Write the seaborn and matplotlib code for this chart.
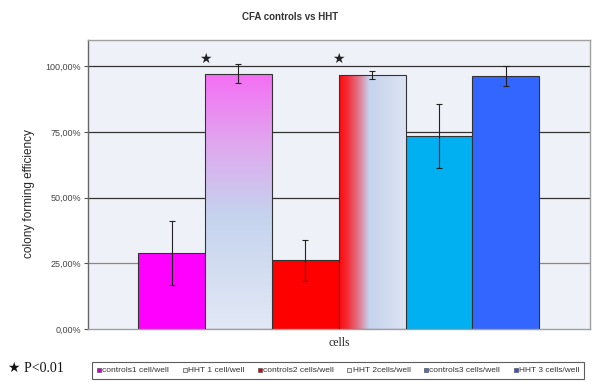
import numpy as np
import pandas as pd
import seaborn as sns
import matplotlib.pyplot as plt
from matplotlib.colors import LinearSegmentedColormap
from matplotlib.lines import Line2D
from matplotlib.ticker import FuncFormatter

sns.set_style("white")
plt.rcParams['font.family'] = ['Liberation Sans', 'DejaVu Sans']

groups = ['controls1 cell/well', 'HHT 1 cell/well', 'controls2 cells/well',
          'HHT 2cells/well', 'controls3 cells/well', 'HHT 3 cells/well']
efficiency = [28.8, 97.2, 26.1, 96.8, 73.5, 96.3]
err = [12.2, 3.7, 7.8, 1.5, 12.2, 3.8]
colors = ['#FF00FF', '#DCE3F2', '#FF0000', '#DCE3F2', '#00B0F0', '#3366FF']
legend_colors = ['#CC00CC', '#EEEEF5', '#EE0000', '#EEEEF5', '#4F6FC8', '#3355DD']
star_after = [0, 2]  # star between bar i and i+1

df = pd.DataFrame({'group': groups, 'eff': efficiency})

fig = plt.figure(figsize=(6, 3.85), dpi=100)
ax = fig.add_axes([88 / 600, 1 - 329 / 385, 502 / 600, 289 / 385])
ax.set_facecolor('#EEF1F7')

sns.barplot(data=df, x='group', y='eff', hue='group', palette=colors,
            legend=False, width=1.0, saturation=1, edgecolor='#333333',
            linewidth=0.8, ax=ax, zorder=2)

patches = ax.patches
xs = [p.get_x() + p.get_width() / 2 for p in patches]
ax.errorbar(xs, efficiency, yerr=err, fmt='none', ecolor='#222222',
            elinewidth=0.8, capsize=2.5, capthick=0.8, zorder=4)

# gradient fills for HHT 1 and HHT 2 bars
vgrad = LinearSegmentedColormap.from_list(
    'v', [(0, '#E2E8F5'), (0.45, '#C5D3EE'), (0.72, '#E0A8EE'), (1, '#F56EF5')])
hgrad = LinearSegmentedColormap.from_list(
    'h', [(0, '#FF0A0A'), (0.12, '#F52A35'), (0.3, '#E07A90'), (0.45, '#C5D3EE'),
          (1, '#DDE4F3')])
for idx, cmap, vertical in [(1, vgrad, True), (3, hgrad, False)]:
    p = patches[idx]
    x0, y0, w, h = p.get_x(), p.get_y(), p.get_width(), p.get_height()
    g = np.linspace(0, 1, 256)
    arr = g[:, None] if vertical else g[None, :]
    im = ax.imshow(arr, cmap=cmap, extent=[x0, x0 + w, y0, y0 + h],
                   origin='lower', aspect='auto', zorder=2.5)
    im.set_clip_path(p)
    p.set_facecolor('none')
    p.set_zorder(3)

for i in star_after:
    p = patches[i]
    ax.text(p.get_x() + p.get_width(), 102.8, '\u2605', ha='center',
            va='center', fontsize=10, color='#222222',
            family=['DejaVu Sans'], zorder=5)

ax.set_xlim(-1.25, 6.26)
ax.set_ylim(0, 110)
ax.set_yticks([0, 25, 50, 75, 100])
ax.yaxis.set_major_formatter(FuncFormatter(lambda v, _: f'{v:.2f}%'.replace('.', ',')))
ax.set_xticks([])
ax.tick_params(axis='y', labelsize=6.5, labelcolor='#444444', length=3,
               direction='out', left=True, width=0.8, color='#555555', pad=2)
ax.yaxis.grid(True, color='#333333', linewidth=0.9, zorder=0)
ax.set_axisbelow(True)
gl = ax.get_ygridlines()
gl[1].set_color('#888888')
gl[0].set_visible(False)
for s in ax.spines.values():
    s.set_color('#A0A0A0')
    s.set_linewidth(1.0)
ax.spines['left'].set_color('#666666')

ax.set_xlabel('cells', fontsize=8.5, labelpad=6, family=['Liberation Serif'])
ax.set_ylabel('colony forming efficiency', fontsize=8.5, labelpad=8)
ax.yaxis.set_label_coords(-0.105, 0.47)
fig.text(290 / 600, 1 - 17 / 385, 'CFA controls vs HHT', ha='center',
         va='center', fontsize=7, fontweight='bold', color='#333333')

handles = [Line2D([], [], marker='s', linestyle='none', markersize=3.5,
                  markerfacecolor=c, markeredgecolor='#555555', markeredgewidth=0.5)
           for c in legend_colors]
leg = fig.legend(handles, groups, loc='center', ncol=6,
                 bbox_to_anchor=(338 / 600, 1 - 370.5 / 385), fontsize=6,
                 frameon=True, fancybox=False, edgecolor='#333333',
                 handlelength=0.6, handletextpad=0.1, columnspacing=1.55,
                 borderpad=0.5, labelcolor='#333333')
leg.get_frame().set_linewidth(0.8)

fig.text(8 / 600, 1 - 368 / 385, '\u2605 P<0.01', ha='left', va='center',
         fontsize=10, family=['Liberation Serif', 'DejaVu Sans'], color='#111111')

fig.savefig('out.png', dpi=100, facecolor='white')
